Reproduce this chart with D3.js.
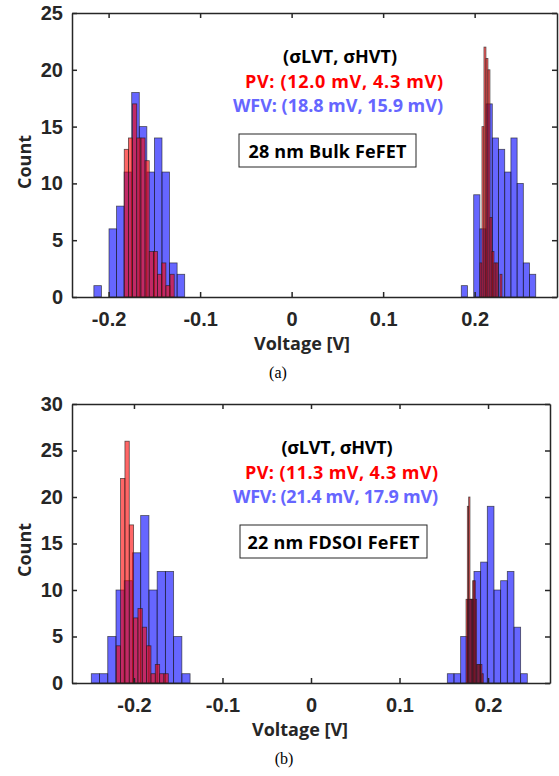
<!DOCTYPE html>
<html>
<head>
<meta charset="utf-8">
<script src="https://cdn.jsdelivr.net/npm/d3@7"></script>
<style>
  body { margin: 0; background: #fff; }
  .tick text { font-family: "Liberation Sans", Arial, sans-serif; font-weight: bold; font-size: 20px; fill: #262626; }
  .lbl { font-family: "Open Sans", sans-serif; font-weight: bold; fill: #262626; }
  .ann { font-family: "Open Sans", sans-serif; font-weight: bold; }
</style>
</head>
<body>
<div id="chart"></div>
<script>
// ---- data (bin start [V], bin width [V], counts) ----
// (a) 28 nm Bulk FeFET
var aWfvLvtStart = -0.2161, aWfvLvtWidth = 0.00827;
var aWfvLvtCounts = [1, 0, 6, 8, 11, 18, 15, 11, 14, 11, 3, 2];
var aPvLvtStart = -0.1829, aPvLvtWidth = 0.00455;
var aPvLvtCounts = [13, 14, 17, 14, 14, 12, 4, 4, 2, 3, 1, 2];
var aWfvHvtStart = 0.1854, aWfvHvtWidth = 0.00678;
var aWfvHvtCounts = [1, 0, 9, 6, 17, 14, 13, 11, 14, 10, 3, 2];
var aPvHvtStart = 0.2058, aPvHvtWidth = 0.00219;
var aPvHvtCounts = [3, 15, 22, 21, 20, 7, 4, 3, 3, 0, 2];

// (b) 22 nm FDSOI FeFET
var bWfvLvtStart = -0.2482, bWfvLvtWidth = 0.0093;
var bWfvLvtCounts = [1, 1, 5, 10, 11, 14, 18, 10, 12, 12, 5, 1];
var bPvLvtStart = -0.220, bPvLvtWidth = 0.0049;
var bPvLvtCounts = [4, 22, 26, 17, 7, 8, 6, 4, 1, 2, 1, 1];
var bWfvHvtStart = 0.154, bWfvHvtWidth = 0.00753;
var bWfvHvtCounts = [1, 1, 5, 9, 12, 13, 19, 10, 11, 12, 6, 1];
var bPvHvtStart = 0.1751, bPvHvtWidth = 0.0015;
var bPvHvtCounts = [9, 19, 20, 9, 9, 11, 11, 9, 2, 2, 2, 2, 1];

var xTicks = [-0.2, -0.1, 0, 0.1, 0.2];
var aYTicks = [0, 5, 10, 15, 20, 25];
var bYTicks = [0, 5, 10, 15, 20, 25, 30];

var aText = ["(\u03c3LVT, \u03c3HVT)", "PV: (12.0 mV, 4.3 mV)", "WFV: (18.8 mV, 15.9 mV)", "28 nm Bulk FeFET", "(a)"];
var bText = ["(\u03c3LVT, \u03c3HVT)", "PV: (11.3 mV, 4.3 mV)", "WFV: (21.4 mV, 17.9 mV)", "22 nm FDSOI FeFET", "(b)"];

function bins(start, w, counts) {
  return counts.map(function(c, i) { return {x0: start + i * w, x1: start + (i + 1) * w, n: c}; });
}

var svg = d3.select("#chart").append("svg")
  .attr("width", 559).attr("height", 776);

// draw one panel
function panel(cfg) {
  var x = d3.scaleLinear().domain(cfg.xdom).range([cfg.left, cfg.right]);
  var y = d3.scaleLinear().domain(cfg.ydom).range([cfg.bottom, cfg.top]);
  var g = svg.append("g");

  // blue first, red on top
  cfg.hists.forEach(function(h) {
    g.append("g").selectAll("rect")
      .data(bins(h.start, h.width, h.counts).filter(function(d) { return d.n > 0; }))
      .enter().append("rect")
        .attr("x", function(d) { return x(d.x0); })
        .attr("width", function(d) { return x(d.x1) - x(d.x0); })
        .attr("y", function(d) { return y(d.n); })
        .attr("height", function(d) { return y(0) - y(d.n); })
        .style("fill", h.color)
        .style("fill-opacity", 0.6)
        .style("stroke", "#1a1a1a")
        .style("stroke-opacity", 0.7)
        .style("stroke-width", 0.8);
  });

  var fmt = function(d) { return d === 0 ? "0" : d.toFixed(1); };
  var ax = [
    g.append("g").attr("transform", "translate(0," + cfg.bottom + ")")
      .call(d3.axisBottom(x).tickValues(xTicks).tickFormat(fmt).tickSize(-5).tickSizeOuter(0).tickPadding(15)),
    g.append("g").attr("transform", "translate(0," + cfg.top + ")")
      .call(d3.axisTop(x).tickValues(xTicks).tickFormat("").tickSize(-5).tickSizeOuter(0)),
    g.append("g").attr("transform", "translate(" + cfg.left + ",0)")
      .call(d3.axisLeft(y).tickValues(cfg.yticks).tickSize(-5).tickSizeOuter(0).tickPadding(9)),
    g.append("g").attr("transform", "translate(" + cfg.right + ",0)")
      .call(d3.axisRight(y).tickValues(cfg.yticks).tickFormat("").tickSize(-5).tickSizeOuter(0))
  ];
  ax.forEach(function(a) {
    a.selectAll("path, line").style("stroke", "#262626").style("stroke-width", 1.5);
  });

  // axis labels
  g.append("text").attr("class", "lbl")
    .attr("transform", "translate(31," + cfg.countY + ") rotate(-90)")
    .attr("text-anchor", "middle").style("font-size", "18px").text("Count");
  g.append("text").attr("class", "lbl")
    .attr("x", cfg.voltX).attr("y", cfg.bottom + 53)
    .attr("text-anchor", "middle").style("font-size", "18px").text("Voltage [V]");

  // annotations
  var t = cfg.text, w = cfg.widths;
  g.append("text").attr("class", "ann").attr("x", cfg.hx).attr("y", cfg.top + 50)
    .attr("text-anchor", "middle").style("font-size", "18px").style("fill", "#000")
    .attr("textLength", w[0]).attr("lengthAdjust", "spacing").text(t[0]);
  g.append("text").attr("class", "ann").attr("x", cfg.ax).attr("y", cfg.top + 75)
    .attr("text-anchor", "end").style("font-size", "18px").style("fill", "#ff0000")
    .attr("textLength", w[1]).attr("lengthAdjust", "spacing").text(t[1]);
  g.append("text").attr("class", "ann").attr("x", cfg.ax).attr("y", cfg.top + 99)
    .attr("text-anchor", "end").style("font-size", "18px").style("fill", "#6666ff")
    .attr("textLength", w[2]).attr("lengthAdjust", "spacing").text(t[2]);
  g.append("rect").attr("x", cfg.box[0]).attr("y", cfg.top + 121)
    .attr("width", cfg.box[1] - cfg.box[0]).attr("height", 33)
    .style("fill", "#fff").style("stroke", "#262626").style("stroke-width", 1);
  g.append("text").attr("class", "ann").attr("x", (cfg.box[0] + cfg.box[1]) / 2).attr("y", cfg.top + 145)
    .attr("text-anchor", "middle").style("font-size", "18px").style("fill", "#000")
    .attr("textLength", w[3]).attr("lengthAdjust", "spacing").text(t[3]);

  g.append("text").attr("x", cfg.capX).attr("y", cfg.capY)
    .attr("text-anchor", "middle")
    .style("font-family", "'Liberation Serif', 'Times New Roman', serif")
    .style("font-size", "16px").style("fill", "#000").text(t[4]);
}

panel({
  xdom: [-0.24, 0.29], ydom: [0, 25], left: 72, right: 557, top: 13, bottom: 297,
  yticks: aYTicks, countY: 162, voltX: 302,
  hists: [
    {start: aWfvLvtStart, width: aWfvLvtWidth, counts: aWfvLvtCounts, color: "#0000ff"},
    {start: aWfvHvtStart, width: aWfvHvtWidth, counts: aWfvHvtCounts, color: "#0000ff"},
    {start: aPvLvtStart, width: aPvLvtWidth, counts: aPvLvtCounts, color: "#ff0000"},
    {start: aPvHvtStart, width: aPvHvtWidth, counts: aPvHvtCounts, color: "#ff0000"}
  ],
  text: aText, widths: [114, 198, 210, 158], hx: 340, ax: 443, box: [239, 416], capX: 278, capY: 378
});

panel({
  xdom: [-0.27, 0.27], ydom: [0, 30], left: 72, right: 550, top: 404, bottom: 683,
  yticks: bYTicks, countY: 550, voltX: 300,
  hists: [
    {start: bWfvLvtStart, width: bWfvLvtWidth, counts: bWfvLvtCounts, color: "#0000ff"},
    {start: bWfvHvtStart, width: bWfvHvtWidth, counts: bWfvHvtCounts, color: "#0000ff"},
    {start: bPvLvtStart, width: bPvLvtWidth, counts: bPvLvtCounts, color: "#ff0000"},
    {start: bPvHvtStart, width: bPvHvtWidth, counts: bPvHvtCounts, color: "#ff0000"}
  ],
  text: bText, widths: [111, 193, 205, 172], hx: 337, ax: 438, box: [240, 427], capX: 284, capY: 764
});
</script>
</body>
</html>
